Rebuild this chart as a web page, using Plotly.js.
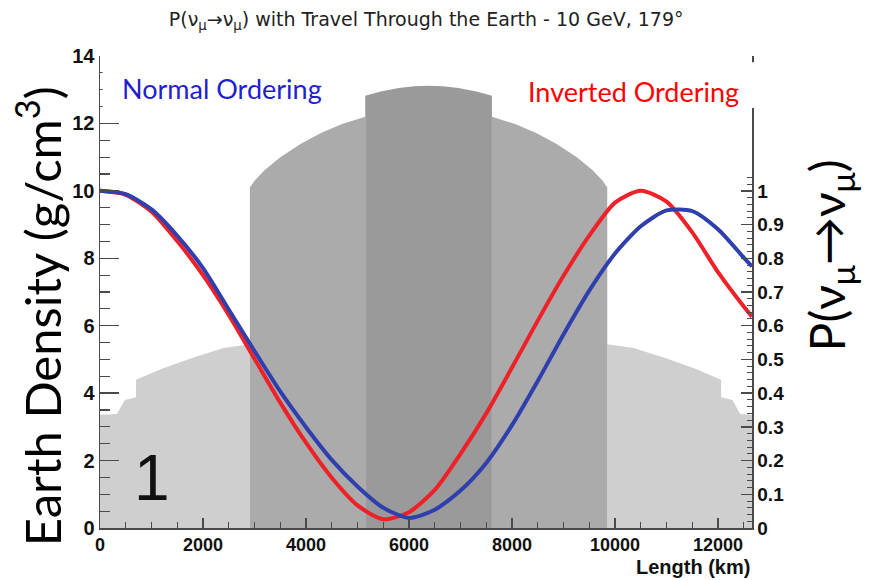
<!DOCTYPE html>
<html>
<head>
<meta charset="utf-8">
<script src="https://cdn.plot.ly/plotly-3.0.1.min.js"></script>
<style>
  html, body { margin: 0; padding: 0; background: #ffffff; }
  #chart { width: 875px; height: 580px; }
</style>
</head>
<body>
<div id="chart"></div>
<script>
// Path length through the Earth (km) at which the survival probability is sampled
const lengthKm = [0, 500, 1000, 1500, 2000, 2500, 3000, 3500, 4000, 4500, 5000, 5500, 6000,
                  6500, 7000, 7500, 8000, 8500, 9000, 9500, 10000, 10500, 11000, 11500, 12000, 12500, 12660];

// P(nu_mu -> nu_mu), normal mass ordering
const probNormal = [1.0, 0.99, 0.945, 0.867, 0.771, 0.648, 0.525, 0.405, 0.299, 0.202, 0.123, 0.06, 0.03,
                    0.054, 0.111, 0.193, 0.305, 0.436, 0.574, 0.704, 0.814, 0.895, 0.942, 0.94, 0.886, 0.802, 0.776];

// P(nu_mu -> nu_mu), inverted mass ordering
const probInverted = [1.0, 0.988, 0.938, 0.851, 0.75, 0.632, 0.502, 0.372, 0.253, 0.149, 0.067, 0.026, 0.047,
                      0.113, 0.22, 0.34, 0.476, 0.615, 0.748, 0.867, 0.965, 1.0, 0.968, 0.877, 0.759, 0.657, 0.627];

// Density along the path (g/cm^3): mantle, outer core, inner core, outer core, mantle
const mantleInKm   = [0, 330, 480, 700, 700, 1200, 1800, 2400, 2910];
const mantleInRho  = [3.36, 3.38, 3.8, 3.88, 4.4, 4.72, 5.05, 5.34, 5.45];
const outerInKm    = [2910, 3000, 3200, 3500, 3900, 4300, 4700, 5150];
const outerInRho   = [10.1, 10.3, 10.62, 11.0, 11.4, 11.72, 11.98, 12.2];
const innerKm      = [5150, 5450, 5800, 6100, 6380, 6660, 6960, 7310, 7610];
const innerRho     = [12.82, 12.95, 13.05, 13.1, 13.12, 13.1, 13.05, 12.95, 12.82];
const outerOutKm   = [7610, 8060, 8460, 8860, 9260, 9560, 9760, 9850];
const outerOutRho  = [12.2, 11.98, 11.72, 11.4, 11.0, 10.62, 10.3, 10.1];
const mantleOutKm  = [9850, 10360, 10960, 11560, 12060, 12060, 12280, 12430, 12660];
const mantleOutRho = [5.45, 5.34, 5.05, 4.72, 4.4, 3.88, 3.8, 3.38, 3.36];

// Axis tick labels
const lengthTicks = [0, 2000, 4000, 6000, 8000, 10000, 12000];
const densityTicks = [0, 2, 4, 6, 8, 10, 12, 14];
const probTicks = [0, 0.1, 0.2, 0.3, 0.4, 0.5, 0.6, 0.7, 0.8, 0.9, 1];
const probTickText = ['0', '0.1', '0.2', '0.3', '0.4', '0.5', '0.6', '0.7', '0.8', '0.9', '1'];

const probMinor = [];
for (let i = 0; i <= 52; i++) probMinor.push(+(i * 0.02).toFixed(2));

const LIGHT = '#cfcfcf', MID = '#ababab', DARK = '#9a9a9a';
const AXIS = '#4a4a4a';
const HELV = 'Liberation Sans, Arial, sans-serif';
const CALI = 'Lato, Carlito, sans-serif';

function tickFont(size) {
  return { family: HELV, size: size, color: '#111', weight: 'bold' };
}

function shell(x, y, color) {
  return {
    x: x, y: y, type: 'scatter', mode: 'lines', fill: 'tozeroy',
    fillcolor: color, line: { width: 0, color: color },
    hoverinfo: 'skip', showlegend: false, xaxis: 'x', yaxis: 'y'
  };
}

const traces = [
  shell(mantleInKm, mantleInRho, LIGHT),
  shell(mantleOutKm, mantleOutRho, LIGHT),
  shell(outerInKm, outerInRho, MID),
  shell(outerOutKm, outerOutRho, MID),
  shell(innerKm, innerRho, DARK),
  {
    x: lengthKm, y: probInverted, type: 'scatter', mode: 'lines', name: 'Inverted Ordering',
    line: { color: '#ee2128', width: 4, shape: 'spline', smoothing: 0.7 },
    xaxis: 'x', yaxis: 'y2', showlegend: false
  },
  {
    x: lengthKm, y: probNormal, type: 'scatter', mode: 'lines', name: 'Normal Ordering',
    line: { color: '#2f3fae', width: 4, shape: 'spline', smoothing: 0.7 },
    xaxis: 'x', yaxis: 'y2', showlegend: false
  }
];

const layout = {
  width: 875, height: 580,
  margin: { l: 100, r: 123, t: 56, b: 52 },
  paper_bgcolor: '#ffffff', plot_bgcolor: '#ffffff',
  showlegend: false,
  title: {
    text: 'P(ν<sub>μ</sub>→ν<sub>μ</sub>) with Travel Through the Earth - 10 GeV, 179°',
    font: { family: 'DejaVu Sans, sans-serif', size: 19, color: '#222' },
    x: 0.487, xanchor: 'center', xref: 'container',
    y: 0.967, yanchor: 'middle', yref: 'container'
  },
  xaxis: {
    range: [0, 12660], showgrid: false, zeroline: false,
    showline: true, linecolor: AXIS, linewidth: 1.5, mirror: false,
    ticks: 'inside', ticklen: 10, tickwidth: 1.5, tickcolor: AXIS,
    tickmode: 'array', tickvals: lengthTicks, ticktext: lengthTicks.map(String),
    tickfont: tickFont(18),
    minor: { ticks: 'inside', ticklen: 6, tickwidth: 1.2, tickcolor: AXIS, dtick: 500, tick0: 0, showgrid: false }
  },
  yaxis: {
    range: [0, 14], showgrid: false, zeroline: false,
    showline: true, linecolor: AXIS, linewidth: 1.5,
    ticks: 'inside', ticklen: 19, tickwidth: 1.5, tickcolor: AXIS,
    tickmode: 'array', tickvals: densityTicks, ticktext: densityTicks.map(String),
    tickfont: tickFont(20),
    minor: { ticks: 'inside', ticklen: 10, tickwidth: 1.2, tickcolor: AXIS, dtick: 0.5, tick0: 0, showgrid: false }
  },
  yaxis2: {
    overlaying: 'y', side: 'right', anchor: 'x',
    range: [0, 1.4], showgrid: false, zeroline: false,
    showline: true, linecolor: AXIS, linewidth: 1.5,
    ticks: 'inside', ticklen: 11, tickwidth: 1.5, tickcolor: AXIS,
    tickmode: 'array', tickvals: probTicks, ticktext: probTickText,
    tickfont: tickFont(19),
    minor: { ticks: 'inside', ticklen: 5, tickwidth: 1, tickcolor: AXIS, tickmode: 'array', tickvals: probMinor, showgrid: false }
  },
  shapes: [
    { type: 'rect', xref: 'paper', yref: 'paper', x0: 0.004, x1: 0.36, y0: 0.884, y1: 0.987,
      fillcolor: '#ffffff', line: { width: 0 }, layer: 'above' },
    { type: 'rect', xref: 'paper', yref: 'paper', x0: 0.636, x1: 1.008, y0: 0.89, y1: 0.987,
      fillcolor: '#ffffff', line: { width: 0 }, layer: 'above' }
  ],
  annotations: [
    { text: 'Normal Ordering', xref: 'paper', yref: 'paper', x: 0.187, y: 0.932,
      xanchor: 'center', yanchor: 'middle', showarrow: false,
      font: { family: CALI, size: 27, color: '#1f1fd0' } },
    { text: 'Inverted Ordering', xref: 'paper', yref: 'paper', x: 0.8175, y: 0.924,
      xanchor: 'center', yanchor: 'middle', showarrow: false,
      font: { family: CALI, size: 27, color: '#ff0000' } },
    { text: '1', xref: 'paper', yref: 'paper', x: 0.08, y: 0.106,
      xanchor: 'center', yanchor: 'middle', showarrow: false,
      font: { family: HELV, size: 64, color: '#111' } },
    { text: 'Length (km)', xref: 'paper', yref: 'paper', x: 1.0, y: -0.083,
      xanchor: 'right', yanchor: 'middle', showarrow: false,
      font: { family: HELV, size: 20, color: '#111', weight: 'bold' } },
    { text: 'Earth Density (g/cm<sup>3</sup>)', xref: 'paper', yref: 'paper', x: -0.094, y: 0.448,
      xanchor: 'center', yanchor: 'middle', textangle: -90, showarrow: false,
      font: { family: CALI, size: 49, color: '#000' } },
    { text: 'P(ν<sub>μ</sub>→ν<sub>μ</sub>)', xref: 'paper', yref: 'paper', x: 1.12, y: 0.578,
      xanchor: 'center', yanchor: 'middle', textangle: -90, showarrow: false,
      font: { family: CALI, size: 48, color: '#000' } }
  ]
};

Plotly.newPlot('chart', traces, layout, { staticPlot: true, displayModeBar: false });
</script>
</body>
</html>
